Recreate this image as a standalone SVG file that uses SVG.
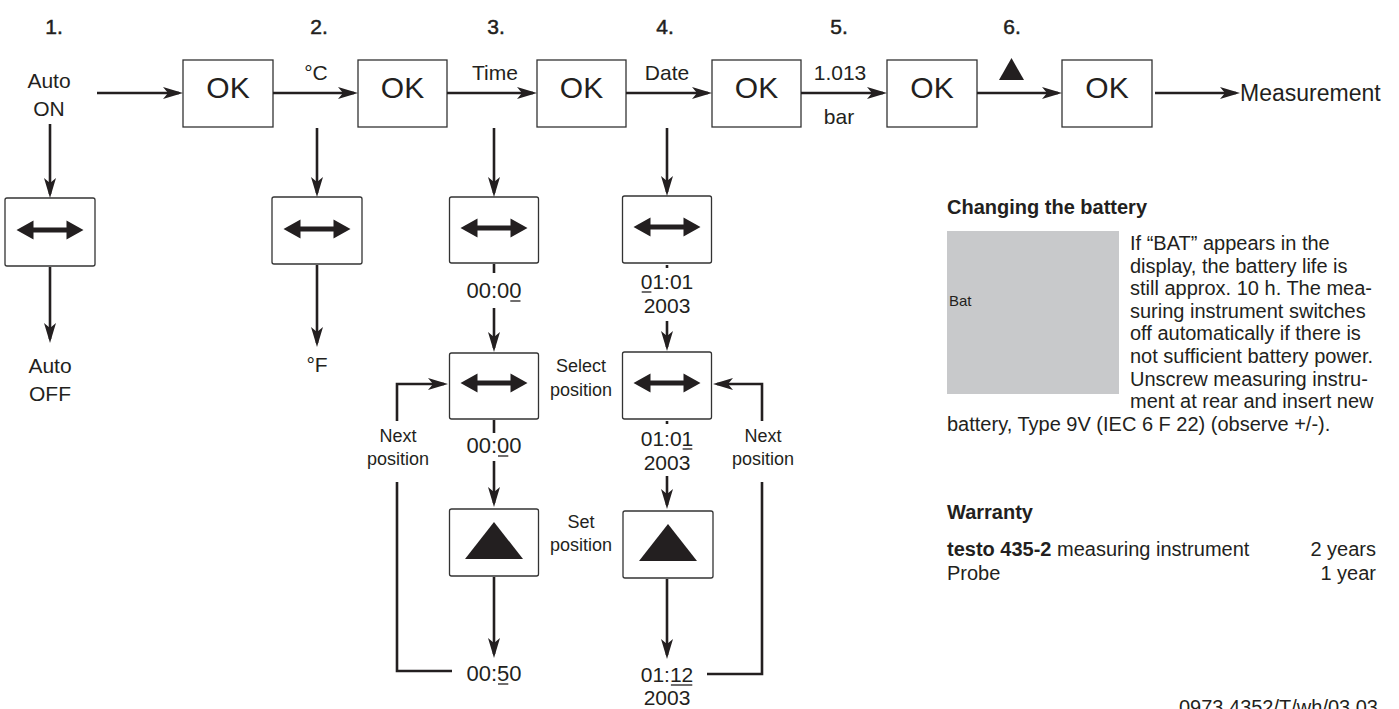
<svg xmlns="http://www.w3.org/2000/svg" width="1399" height="709" viewBox="0 0 1399 709">
<defs>
<style>
text{font-family:"Liberation Sans",Arial,sans-serif;fill:#231f20}
.num{font-size:21px;text-anchor:middle;stroke:#231f20;stroke-width:0.5}
.lbl{font-size:21px;text-anchor:middle}
.ok{font-size:30px;text-anchor:middle}
.sm{font-size:18px;text-anchor:middle}
.val{font-size:22px;text-anchor:middle}
.dval{font-size:21px;text-anchor:middle}
.para{font-size:20px}
.hd{font-size:20px;font-weight:bold}
.box{fill:#fff;stroke:#333;stroke-width:1.3}
.conn{fill:none;stroke:#231f20;stroke-width:2.6}
.arr{marker-end:url(#ah)}
.ul{stroke:#231f20;stroke-width:1.3}
.sym{fill:#231f20}
</style>
<marker id="ah" markerWidth="20" markerHeight="12" refX="16" refY="6" orient="auto" markerUnits="userSpaceOnUse">
<path d="M0,0 L20,6 L0,12 L5,6 Z" fill="#231f20"/>
</marker>
<path id="dbl" d="M-33.5,0 L-16.5,-9.5 L-16.5,-2.6 L16.5,-2.6 L16.5,-9.5 L33.5,0 L16.5,9.5 L16.5,2.6 L-16.5,2.6 L-16.5,9.5 Z"/>
<path id="tri" d="M0,-20.5 L29,16.5 L-29,16.5 Z"/>
</defs>
<rect width="1399" height="709" fill="#fff"/>

<g id="steps">
<text class="num" x="54" y="34">1.</text>
<text class="num" x="319" y="34">2.</text>
<text class="num" x="496" y="34">3.</text>
<text class="num" x="665" y="34">4.</text>
<text class="num" x="839" y="34">5.</text>
<text class="num" x="1012" y="34">6.</text>
</g>

<g id="auto-on"><text class="lbl" x="49" y="88">Auto</text><text class="lbl" x="49" y="116">ON</text></g>

<g id="ok1"><rect class="box" x="183" y="60" width="90" height="67"/><text class="ok" x="228" y="98">OK</text></g>
<g id="ok2"><rect class="box" x="358" y="60" width="89" height="67"/><text class="ok" x="402.5" y="98">OK</text></g>
<g id="ok3"><rect class="box" x="537" y="60" width="89" height="67"/><text class="ok" x="581.5" y="98">OK</text></g>
<g id="ok4"><rect class="box" x="712" y="60" width="89" height="67"/><text class="ok" x="756.5" y="98">OK</text></g>
<g id="ok5"><rect class="box" x="887" y="60" width="90" height="67"/><text class="ok" x="932" y="98">OK</text></g>
<g id="ok6"><rect class="box" x="1062" y="60" width="90" height="67"/><text class="ok" x="1107" y="98">OK</text></g>

<g id="measurement"><text x="1240" y="101" style="font-size:23px">Measurement</text></g>

<g id="top-labels">
<text class="lbl" x="316" y="80">°C</text>
<text class="lbl" x="495" y="80">Time</text>
<text class="lbl" x="667" y="80">Date</text>
<text class="lbl" x="840" y="80">1.013</text>
<text class="lbl" x="839" y="124">bar</text>
<path class="sym" d="M1011.5,58 L1024,80 L999,80 Z"/>
</g>

<g id="c1-box"><rect class="box" x="5" y="198" width="90" height="68" rx="2"/><use href="#dbl" class="sym" x="50" y="230"/></g>
<g id="auto-off"><text class="lbl" x="50" y="373">Auto</text><text class="lbl" x="50" y="401">OFF</text></g>

<g id="c2-box"><rect class="box" x="272" y="197" width="90" height="67" rx="2"/><use href="#dbl" class="sym" x="317" y="229"/></g>
<g id="deg-f"><text class="lbl" x="317" y="372">°F</text></g>

<g id="c3-box1"><rect class="box" x="449.5" y="197" width="89" height="66" rx="2"/><use href="#dbl" class="sym" x="494" y="228"/></g>
<g id="c3-val1"><text class="val" x="494" y="298">00:00</text><line class="ul" x1="510.3" y1="301" x2="520.5" y2="301"/></g>
<g id="c3-box2"><rect class="box" x="449.5" y="353" width="89" height="66" rx="2"/><use href="#dbl" class="sym" x="494" y="383"/></g>
<g id="c3-val2"><text class="val" x="494" y="453">00:00</text><line class="ul" x1="498" y1="456" x2="508.3" y2="456"/></g>
<g id="c3-box3"><rect class="box" x="449.5" y="509" width="89" height="67" rx="2"/><use href="#tri" class="sym" x="494" y="542.5"/></g>
<g id="c3-val3"><text class="val" x="494" y="681">00:50</text><line class="ul" x1="498" y1="684" x2="508.3" y2="684"/></g>

<g id="c4-box1"><rect class="box" x="622.5" y="196" width="89" height="67" rx="2"/><use href="#dbl" class="sym" x="667" y="227"/></g>
<g id="c4-val1"><text class="dval" x="667" y="289">01:01</text><text class="dval" x="667" y="313">2003</text><line class="ul" x1="641.7" y1="292" x2="651.4" y2="292"/></g>
<g id="c4-box2"><rect class="box" x="622.5" y="352" width="89" height="67" rx="2"/><use href="#dbl" class="sym" x="667" y="383"/></g>
<g id="c4-val2"><text class="dval" x="667" y="446">01:01</text><text class="dval" x="667" y="470">2003</text><line class="ul" x1="682.6" y1="449" x2="692.3" y2="449"/></g>
<g id="c4-box3"><rect class="box" x="623" y="511" width="90" height="67" rx="2"/><use href="#tri" class="sym" x="668" y="544.5"/></g>
<g id="c4-val3"><text class="dval" x="667" y="682">01:12</text><text class="dval" x="667" y="705">2003</text><line class="ul" x1="670.9" y1="685" x2="692.3" y2="685"/></g>

<g id="mid-labels">
<text class="sm" x="581" y="372">Select</text><text class="sm" x="581" y="396">position</text>
<text class="sm" x="581" y="528">Set</text><text class="sm" x="581" y="551">position</text>
<text class="sm" x="398" y="442">Next</text><text class="sm" x="398" y="465">position</text>
<text class="sm" x="763" y="442">Next</text><text class="sm" x="763" y="465">position</text>
</g>

<g id="connectors">
<path class="conn arr" d="M97,93 H179"/>
<path class="conn arr" d="M273,93 H354"/>
<path class="conn arr" d="M447,93 H533"/>
<path class="conn arr" d="M626,93 H708"/>
<path class="conn arr" d="M801,93 H883"/>
<path class="conn arr" d="M977,93 H1058"/>
<path class="conn arr" d="M1155,93 H1236"/>
<path class="conn arr" d="M50,124 V194"/>
<path class="conn arr" d="M50,267 V339"/>
<path class="conn arr" d="M317,128 V193"/>
<path class="conn arr" d="M317,265 V343"/>
<path class="conn arr" d="M494,128 V193"/>
<path class="conn" d="M494,264 V273"/>
<path class="conn arr" d="M494,308 V348"/>
<path class="conn" d="M494,420 V433"/>
<path class="conn arr" d="M494,461 V503"/>
<path class="conn arr" d="M494,577 V654"/>
<path class="conn arr" d="M667,128 V192"/>
<path class="conn" d="M667,265 V268"/>
<path class="conn arr" d="M667,321 V347"/>
<path class="conn" d="M667,421 V424"/>
<path class="conn arr" d="M667,476 V505"/>
<path class="conn arr" d="M667,579 V655"/>
<path class="conn" d="M452,671 H397 V482"/>
<path class="conn arr" d="M397,421 V384 H444"/>
<path class="conn" d="M707,674 H762 V482"/>
<path class="conn arr" d="M762,421 V384 H717"/>
</g>

<g id="battery">
<text class="hd" x="947" y="214">Changing the battery</text>
<rect x="947" y="231" width="172" height="163" fill="#c8c9cb"/>
<text x="949" y="306" style="font-size:15px">Bat</text>
<text class="para" x="1130" y="250">If “BAT” appears in the</text>
<text class="para" x="1130" y="272.6">display, the battery life is</text>
<text class="para" x="1130" y="295.2">still approx. 10 h. The mea-</text>
<text class="para" x="1130" y="317.8">suring instrument switches</text>
<text class="para" x="1130" y="340.4">off automatically if there is</text>
<text class="para" x="1130" y="363">not sufficient battery power.</text>
<text class="para" x="1130" y="385.6">Unscrew measuring instru-</text>
<text class="para" x="1130" y="408.2">ment at rear and insert new</text>
<text class="para" x="947" y="430.8">battery, Type 9V (IEC 6 F 22) (observe +/-).</text>
</g>

<g id="warranty">
<text class="hd" x="947" y="519">Warranty</text>
<text class="para" x="947" y="556"><tspan font-weight="bold">testo 435-2</tspan> measuring instrument</text>
<text class="para" x="1376" y="556" text-anchor="end">2 years</text>
<text class="para" x="947" y="580">Probe</text>
<text class="para" x="1376" y="580" text-anchor="end">1 year</text>
<text class="para" x="1378" y="714" text-anchor="end">0973 4352/T/wh/03.03</text>
</g>
</svg>
